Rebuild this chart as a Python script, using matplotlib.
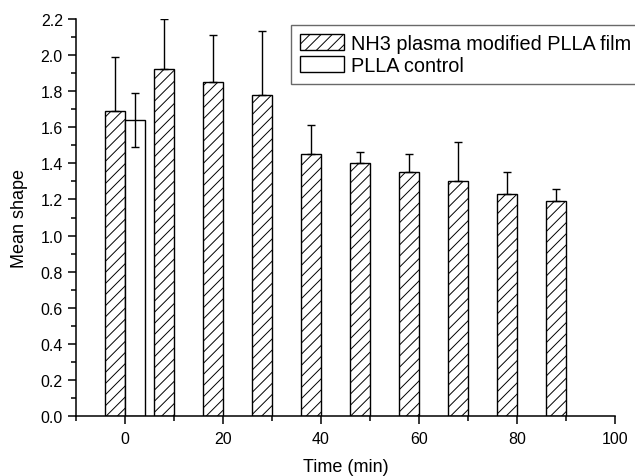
import matplotlib
matplotlib.use("Agg")
import matplotlib.pyplot as plt
from matplotlib.ticker import MultipleLocator, FixedLocator

plt.rcParams['font.family'] = ['Liberation Sans', 'DejaVu Sans']
plt.rcParams['hatch.linewidth'] = 0.7

times = [0, 10, 20, 30, 40, 50, 60, 70, 80, 90]
nh3_mean = [1.69, 1.92, 1.85, 1.78, 1.45, 1.40, 1.35, 1.30, 1.23, 1.19]
nh3_err = [0.30, 0.28, 0.26, 0.35, 0.16, 0.06, 0.10, 0.22, 0.12, 0.07]
ctrl_times = [0]
ctrl_mean = [1.64]
ctrl_err = [0.15]

fig = plt.figure(figsize=(6.35, 4.77), dpi=100)
ax = fig.add_axes([76/635, 59.7/477, (615-76)/635, (457.3-59.7)/477])

bar_w = 4
ax.bar(times, nh3_mean, width=-bar_w, align='edge', color='white',
       edgecolor='black', hatch='///', linewidth=1.0,
       label='NH3 plasma modified PLLA film')
ax.errorbar([t - bar_w/2 for t in times], nh3_mean,
            yerr=[[0]*len(nh3_err), nh3_err], fmt='none', ecolor='black',
            elinewidth=1.0, capsize=2.8, capthick=1.0)
ax.bar(ctrl_times, ctrl_mean, width=bar_w, align='edge', color='white',
       edgecolor='black', linewidth=1.0, label='PLLA control')
ax.errorbar([t + bar_w/2 for t in ctrl_times], ctrl_mean, yerr=ctrl_err,
            fmt='none', ecolor='black', elinewidth=1.0, capsize=2.8, capthick=1.0)

ax.set_xlim(-10, 100)
ax.set_ylim(0, 2.2)
ax.spines['top'].set_visible(False)
ax.spines['right'].set_visible(False)
for s in ('left', 'bottom'):
    ax.spines[s].set_linewidth(1.1)

ax.xaxis.set_major_locator(FixedLocator([0, 20, 40, 60, 80, 100]))
ax.xaxis.set_minor_locator(FixedLocator([-10, 10, 30, 50, 70, 90]))
ax.yaxis.set_major_locator(MultipleLocator(0.2))
ax.yaxis.set_minor_locator(MultipleLocator(0.1))
ax.set_yticklabels([f'{v:.1f}' for v in ax.get_yticks()])
ax.tick_params(which='major', direction='out', length=6, width=1.1, labelsize=11.5)
ax.tick_params(axis='x', which='major', pad=4.5)
ax.tick_params(which='minor', direction='out', length=3.5, width=1.1)

ax.set_xlabel('Time (min)', fontsize=13, labelpad=9)
ax.set_ylabel('Mean shape', fontsize=13, labelpad=9)

leg = ax.legend(loc='upper left', bbox_to_anchor=(291/635, 1 - 25.7/477),
                bbox_transform=fig.transFigure, fontsize=14.3, frameon=True,
                fancybox=False, borderaxespad=0, borderpad=0.45,
                handlelength=2.2, handleheight=0.85, handletextpad=0.35,
                labelspacing=0.15)
leg.get_frame().set_edgecolor('#444444')
leg.get_frame().set_linewidth(1.0)

fig.savefig('out.png', dpi=100)
